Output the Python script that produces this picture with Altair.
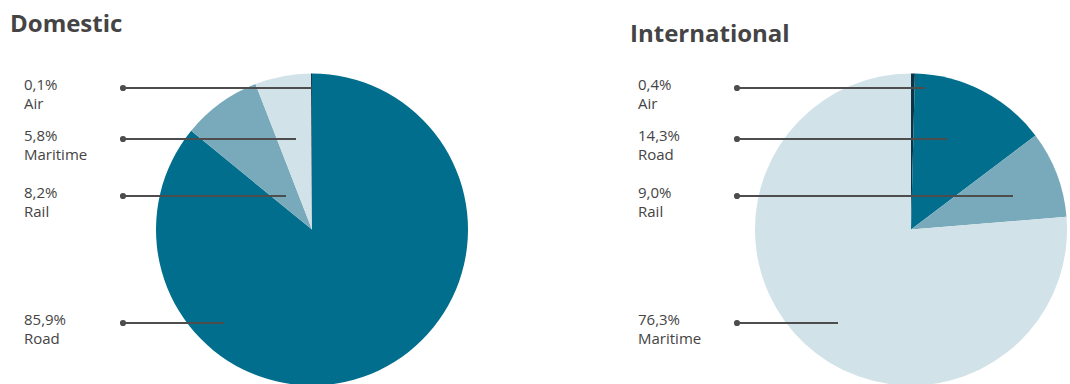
import altair as alt
import pandas as pd

# ---- data ----
dom_modes = ["Road", "Rail", "Maritime", "Air"]
dom_values = [85.9, 8.2, 5.8, 0.1]
int_modes = ["Air", "Road", "Rail", "Maritime"]
int_values = [0.4, 14.3, 9.0, 76.3]
panels = ["Domestic", "International"]

# label order (top to bottom) per panel
dom_label_order = ["Air", "Maritime", "Rail", "Road"]
int_label_order = ["Air", "Road", "Rail", "Maritime"]

# ---- layout (pixels) ----
pie_cx = [312, 911]
pie_cy = 229.5
pie_r = 156
title_x = [10, 630]
title_y = [32, 42]
text_x = [24, 638]
dot_x = [123, 737]
row_y = [88, 139, 196, 323]
dom_line_end = [312, 296, 286, 224]
int_line_end = [925, 947, 1013, 838]

colors = {"Road": "#006e8c", "Rail": "#78aabb", "Maritime": "#d1e2e9", "Air": "#0b3444"}
FONT = "Open Sans"
TXT = "#444444"


def fmt(v):
    return f"{v:.1f}".replace(".", ",") + "%"


pie_rows = []
for i, (p, modes, vals) in enumerate([(panels[0], dom_modes, dom_values), (panels[1], int_modes, int_values)]):
    for k, (m, v) in enumerate(zip(modes, vals)):
        pie_rows.append({"panel": p, "mode": m, "value": v, "ord": k})
pie_df = pd.DataFrame(pie_rows)

lab_rows = []
for i, (p, order, modes, vals, ends) in enumerate([
    (panels[0], dom_label_order, dom_modes, dom_values, dom_line_end),
    (panels[1], int_label_order, int_modes, int_values, int_line_end),
]):
    for r, m in enumerate(order):
        v = vals[modes.index(m)]
        lab_rows.append({
            "panel": p, "mode": m, "pct": fmt(v),
            "tx": text_x[i], "dx0": dot_x[i], "dx1": ends[r], "y": row_y[r],
        })
lab_df = pd.DataFrame(lab_rows)

title_df = pd.DataFrame({"title": panels, "x": title_x, "y": title_y})

color_scale = alt.Scale(domain=list(colors.keys()), range=list(colors.values()))

layers = []
for i, p in enumerate(panels):
    arc = alt.Chart(pie_df).transform_filter(alt.datum.panel == p).mark_arc(
        outerRadius=pie_r, stroke=None
    ).encode(
        theta=alt.Theta("value:Q", stack=True),
        order=alt.Order("ord:Q"),
        color=alt.Color("mode:N", scale=color_scale, legend=None),
        x=alt.value(pie_cx[i]),
        y=alt.value(pie_cy),
    )
    layers.append(arc)

base = alt.Chart(lab_df)
lines = base.mark_rule(color="#4d4d4d", strokeWidth=2).encode(
    x=alt.X("dx0:Q", scale=None),
    x2="dx1:Q",
    y=alt.Y("y:Q", scale=None),
)
dots = base.mark_circle(color="#4d4d4d", opacity=1, size=38).encode(
    x=alt.X("dx0:Q", scale=None),
    y=alt.Y("y:Q", scale=None),
)
pct_text = base.mark_text(align="left", baseline="alphabetic", dy=1.5, font=FONT, fontSize=15, color=TXT).encode(
    x=alt.X("tx:Q", scale=None),
    y=alt.Y("y:Q", scale=None),
    text="pct:N",
)
name_text = base.mark_text(align="left", baseline="alphabetic", dy=20.5, font=FONT, fontSize=15, color=TXT).encode(
    x=alt.X("tx:Q", scale=None),
    y=alt.Y("y:Q", scale=None),
    text="mode:N",
)
titles = alt.Chart(title_df).mark_text(
    align="left", baseline="alphabetic", font=FONT, fontSize=24, fontWeight="bold", color=TXT
).encode(
    x=alt.X("x:Q", scale=None),
    y=alt.Y("y:Q", scale=None),
    text="title:N",
)

chart = alt.layer(*layers, lines, dots, pct_text, name_text, titles).resolve_scale(
    theta="independent"
).properties(
    width=1070, height=384, padding=0, autosize=alt.AutoSizeParams(type="none")
).configure_view(stroke=None)

chart.save("out.html", embed_options={"renderer": "svg", "actions": False})
